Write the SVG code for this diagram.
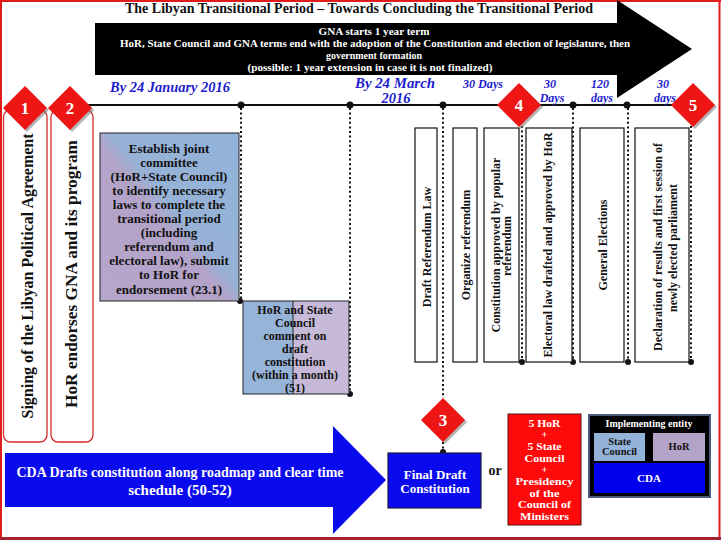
<svg xmlns="http://www.w3.org/2000/svg" width="721" height="540" viewBox="0 0 721 540">
<defs>
<style>
text{font-family:"Liberation Serif","Times New Roman",serif;font-weight:bold}
.c{text-anchor:middle}
.w{fill:#ffffff}
.k{fill:#111111}
.bl{fill:#1c1ccc;font-style:italic;text-anchor:middle}
.dot{stroke:#111;stroke-width:2;stroke-dasharray:2 2.6;fill:none}
.pt{fill:#111}
.vbox{fill:#ffffff;stroke:#111;stroke-width:1.2}
.lbox{fill:#ffffff;stroke:#d42a2a;stroke-width:1.3}
.dia{fill:#ee1515}
.dsh{fill:#777;opacity:.55}
.num{fill:#fff;font-size:17px;text-anchor:middle}
</style>
<linearGradient id="diag" x1="0" y1="1" x2="1" y2="0">
<stop offset="0" stop-color="#b7a6cb"/>
<stop offset="0.46" stop-color="#b3a3c8"/>
<stop offset="0.54" stop-color="#97b2d6"/>
<stop offset="1" stop-color="#92b3da"/>
</linearGradient>
</defs>

<rect x="0" y="0" width="721" height="540" fill="#ffffff"/>

<g id="frame">
<line x1="1" y1="0" x2="1" y2="540" stroke="#e01b1b" stroke-width="2"/>
<line x1="0" y1="1" x2="721" y2="1" stroke="#e01b1b" stroke-width="2"/>
<line x1="719.5" y1="0" x2="719.5" y2="540" stroke="#e01b1b" stroke-width="2"/>
<line x1="0" y1="538.5" x2="721" y2="538.5" stroke="#a3202e" stroke-width="3"/>
</g>

<g id="gna-arrow">
<polygon points="95,23 617,23 617,0 692,49 617,98 617,75 95,75" fill="#000000"/>
<text class="c w" x="374" y="35" font-size="10.5" textLength="111" lengthAdjust="spacingAndGlyphs">GNA starts 1 year term</text>
<text class="c w" x="375" y="47" font-size="10.5" textLength="510" lengthAdjust="spacingAndGlyphs">HoR, State Council and GNA terms end with the adoption of the Constitution and election of legislature, then</text>
<text class="c w" x="374" y="59" font-size="10.5" textLength="96" lengthAdjust="spacingAndGlyphs">government formation</text>
<text class="c w" x="370" y="71" font-size="10.5" textLength="245" lengthAdjust="spacingAndGlyphs">(possible: 1 year extension in case it is not finalized)</text>
</g>

<g id="title">
<text class="c k" x="359" y="13" font-size="15" textLength="468" lengthAdjust="spacingAndGlyphs">The Libyan Transitional Period – Towards Concluding the Transitional Period</text>
</g>

<g id="timeline">
<line x1="86" y1="105" x2="692" y2="105" stroke="#111" stroke-width="2"/>
<text class="bl" x="170" y="92" font-size="14.5" textLength="120" lengthAdjust="spacingAndGlyphs">By 24 January 2016</text>
<text class="bl" x="395" y="88" font-size="14.5" textLength="80" lengthAdjust="spacingAndGlyphs">By 24 March</text>
<text class="bl" x="396" y="103" font-size="14.5">2016</text>
<text class="bl" x="483" y="88" font-size="12" textLength="40" lengthAdjust="spacingAndGlyphs">30 Days</text>
<text class="bl" x="550" y="88" font-size="12">30</text>
<text class="bl" x="552" y="102" font-size="12">Days</text>
<text class="bl" x="600" y="88" font-size="12">120</text>
<text class="bl" x="602" y="102" font-size="12">days</text>
<text class="bl" x="663" y="88" font-size="12">30</text>
<text class="bl" x="665" y="102" font-size="12">days</text>
</g>

<g id="connectors">
<line class="dot" x1="241" y1="108" x2="241" y2="300"/>
<line class="dot" x1="350" y1="108" x2="350" y2="393"/>
<line class="dot" x1="443" y1="108" x2="443" y2="398"/>
<line class="dot" x1="443" y1="442" x2="443" y2="450"/>
<line class="dot" x1="522" y1="126" x2="522" y2="360"/>
<line class="dot" x1="573" y1="108" x2="573" y2="360"/>
<line class="dot" x1="628" y1="108" x2="628" y2="360"/>
<line class="dot" x1="691" y1="126" x2="691" y2="360"/>
<circle class="pt" cx="241" cy="105" r="3.5"/>
<circle class="pt" cx="350" cy="105" r="3.5"/>
<circle class="pt" cx="443" cy="105" r="3.5"/>
<circle class="pt" cx="573" cy="105" r="3.5"/>
<circle class="pt" cx="627" cy="105" r="3.5"/>
<circle class="pt" cx="240" cy="301" r="3"/>
<circle class="pt" cx="350" cy="394" r="3"/>
<circle class="pt" cx="522" cy="362" r="3"/>
<circle class="pt" cx="573" cy="362" r="3"/>
<circle class="pt" cx="628" cy="362" r="3"/>
<circle class="pt" cx="691" cy="362" r="3"/>
<circle class="pt" cx="443" cy="452" r="3"/>
</g>

<g id="node-signing">
<rect class="lbox" x="3.5" y="110" width="43.5" height="332" rx="7"/>
<text class="k c" transform="translate(32.5,276) rotate(-90)" font-size="16" textLength="285" lengthAdjust="spacingAndGlyphs">Signing of the Libyan Political Agreement</text>
</g>
<g id="node-hor-endorses">
<rect class="lbox" x="51" y="110" width="42" height="332" rx="7"/>
<text class="k c" transform="translate(77,274) rotate(-90)" font-size="16.5" textLength="268" lengthAdjust="spacingAndGlyphs">HoR endorses GNA and its program</text>
</g>

<g id="node-joint-committee">
<rect x="100" y="133" width="139" height="168" fill="url(#diag)" stroke="#222" stroke-width="1"/>
<g class="k c" font-size="13">
<text x="169" y="152.5">Establish joint</text>
<text x="169" y="166.6">committee</text>
<text x="169" y="180.7">(HoR+State Council)</text>
<text x="169" y="194.8">to identify necessary</text>
<text x="169" y="208.9">laws to complete the</text>
<text x="169" y="223">transitional period</text>
<text x="169" y="237.1">(including</text>
<text x="169" y="251.2">referendum and</text>
<text x="169" y="265.3">electoral law), submit</text>
<text x="169" y="279.4">to HoR for</text>
<text x="169" y="293.5">endorsement (23.1)</text>
</g>
</g>

<g id="node-comment">
<rect x="243" y="301" width="50" height="93" fill="#96b3d8"/>
<rect x="293" y="301" width="56" height="93" fill="#c7bad8"/>
<rect x="243" y="301" width="106" height="93" fill="none" stroke="#222" stroke-width="1"/>
<line x1="293" y1="301" x2="293" y2="394" stroke="#222" stroke-width="1"/>
<g class="k c" font-size="12">
<text x="295" y="314">HoR and State</text>
<text x="295" y="327">Council</text>
<text x="295" y="340">comment on</text>
<text x="295" y="353">draft</text>
<text x="295" y="366">constitution</text>
<text x="295" y="379">(within a month)</text>
<text x="295" y="392">(51)</text>
</g>
</g>

<g id="node-draft-referendum-law">
<rect class="vbox" x="415" y="128" width="22" height="234"/>
<text class="k c" transform="translate(430.5,247) rotate(-90)" font-size="12">Draft Referendum Law</text>
</g>
<g id="node-organize-referendum">
<rect class="vbox" x="453" y="128" width="24" height="234"/>
<text class="k c" transform="translate(469.5,245) rotate(-90)" font-size="12">Organize referendum</text>
</g>
<g id="node-constitution-approved">
<rect class="vbox" x="484" y="128" width="35" height="234"/>
<text class="k c" transform="translate(499.5,245) rotate(-90)" font-size="12">Constitution approved by popular</text>
<text class="k c" transform="translate(511,246) rotate(-90)" font-size="12">referendum</text>
</g>
<g id="node-electoral-law">
<rect class="vbox" x="526" y="128" width="46" height="234"/>
<text class="k c" transform="translate(551.5,245) rotate(-90)" font-size="12">Electoral law drafted and approved by HoR</text>
</g>
<g id="node-general-elections">
<rect class="vbox" x="580" y="128" width="44" height="234"/>
<text class="k c" transform="translate(607,245) rotate(-90)" font-size="12">General Elections</text>
</g>
<g id="node-declaration">
<rect class="vbox" x="635" y="128" width="54" height="234"/>
<text class="k c" transform="translate(661.5,247) rotate(-90)" font-size="12">Declaration of results and first session of</text>
<text class="k c" transform="translate(676.5,248) rotate(-90)" font-size="12">newly elected parliament</text>
</g>

<g id="node-cda-arrow">
<polygon points="5,453 333,453 333,426 386,480 333,534 333,507 5,507" fill="#0a0aee"/>
<text class="c w" x="180" y="477" font-size="15" textLength="327" lengthAdjust="spacingAndGlyphs">CDA Drafts constitution along roadmap and clear time</text>
<text class="c w" x="180" y="495" font-size="15">schedule (50-52)</text>
</g>

<g id="node-final-draft">
<rect x="388" y="453" width="93" height="55" fill="#0a0aee" stroke="#1a1a40" stroke-width="1.2"/>
<text class="c w" x="435" y="479" font-size="13">Final Draft</text>
<text class="c w" x="435" y="493" font-size="13">Constitution</text>
</g>

<g id="node-or">
<text class="k c" x="495" y="475" font-size="14">or</text>
</g>

<g id="node-committee-members">
<rect x="508" y="414" width="73" height="111" fill="#ff0a0a" stroke="#5a1010" stroke-width="1"/>
<g class="c w" font-size="10.4">
<text x="544.5" y="426.5" textLength="32" lengthAdjust="spacingAndGlyphs">5 HoR</text>
<text x="544.5" y="438.2">+</text>
<text x="544.5" y="449.9" textLength="34" lengthAdjust="spacingAndGlyphs">5 State</text>
<text x="544.5" y="461.6" textLength="40" lengthAdjust="spacingAndGlyphs">Council</text>
<text x="544.5" y="473.3">+</text>
<text x="544.5" y="485" textLength="58" lengthAdjust="spacingAndGlyphs">Presidency</text>
<text x="544.5" y="496.7" textLength="30" lengthAdjust="spacingAndGlyphs">of the</text>
<text x="544.5" y="508.4" textLength="53" lengthAdjust="spacingAndGlyphs">Council of</text>
<text x="544.5" y="520.1" textLength="49" lengthAdjust="spacingAndGlyphs">Ministers</text>
</g>
</g>

<g id="node-legend">
<rect x="589" y="415" width="121" height="82" fill="#000000" stroke="#4a5a78" stroke-width="2"/>
<text class="c w" x="649" y="427" font-size="10.5" textLength="87" lengthAdjust="spacingAndGlyphs">Implementing entity</text>
<rect x="594" y="433" width="51" height="28" fill="#93b3d8"/>
<text class="c k" x="619.5" y="445" font-size="10.5">State</text>
<text class="c k" x="619.5" y="455" font-size="10.5">Council</text>
<rect x="653" y="433" width="52" height="28" fill="#b3a3c8"/>
<text class="c k" x="679" y="450" font-size="10.5">HoR</text>
<rect x="594" y="463" width="111" height="30" fill="#0000ee"/>
<text class="c w" x="649" y="482" font-size="11">CDA</text>
</g>

<g id="diamond-1">
<polygon class="dsh" points="27,88 49,110 27,132 5,110"/>
<polygon class="dia" points="25,86 47,108 25,130 3,108"/>
<text class="num" x="25" y="114">1</text>
</g>
<g id="diamond-2">
<polygon class="dsh" points="72,88 94,110 72,132 50,110"/>
<polygon class="dia" points="70,86 92,108 70,130 48,108"/>
<text class="num" x="70" y="114">2</text>
</g>
<g id="diamond-4">
<polygon class="dsh" points="521,85 543,107 521,129 499,107"/>
<polygon class="dia" points="519,83 541,105 519,127 497,105"/>
<text class="num" x="519" y="111">4</text>
</g>
<g id="diamond-5">
<polygon class="dsh" points="695,85 717,107 695,129 673,107"/>
<polygon class="dia" points="693,83 715,105 693,127 671,105"/>
<text class="num" x="693" y="111">5</text>
</g>
<g id="diamond-3">
<polygon class="dsh" points="445,400 467,422 445,444 423,422"/>
<polygon class="dia" points="443,398 465,420 443,442 421,420"/>
<text class="num" x="443" y="426">3</text>
</g>
</svg>
